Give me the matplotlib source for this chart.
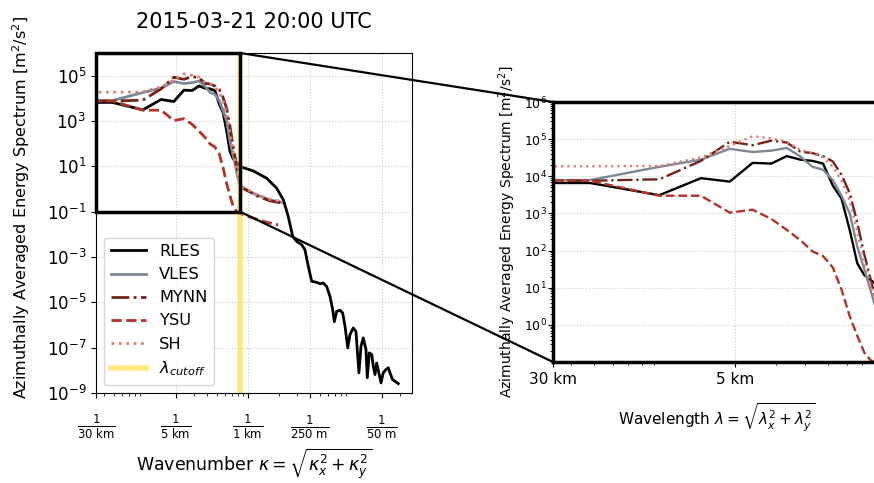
import matplotlib.pyplot as plt
from matplotlib.patches import Rectangle, ConnectionPatch

# wavenumbers [1/km]
k_grid = [0.030, 0.048, 0.095, 0.143, 0.190, 0.238, 0.286, 0.333, 0.381,
          0.429, 0.476, 0.524, 0.571, 0.619, 0.667, 0.714, 0.762, 0.810,
          0.857]
k_rles_tail = [1.12, 1.51, 1.89, 2.20, 2.45, 2.71, 2.96, 3.31, 3.56, 3.84,
               4.14, 4.63, 4.99, 5.37, 5.79, 6.24, 6.62, 6.87, 7.24, 7.80,
               8.28, 8.73, 9.27, 9.75, 10.5, 11.14, 11.91, 12.47, 13.12,
               13.93, 14.35, 15.0, 15.85, 16.41, 17.06, 17.70, 18.75, 19.5,
               20.51, 21.83, 22.96, 23.82, 25.29, 26.67, 28.71]
k_model_tail = [1.21, 1.63, 2.12]
k_ysu_tail = [1.12, 1.51, 1.96]
k_cutoff = 0.834  # 1 / (1.2 km)

# azimuthally averaged spectra [m2/s2]
rles = [6.6e3, 6.6e3, 3.1e3, 8.9e3, 7.2e3, 2.3e4, 2.2e4, 3.5e4, 2.8e4, 2.6e4,
        2.2e4, 5.6e3, 2.5e3, 355, 45, 22, 16, 12, 9.3,
        6.3, 3.0, 1.1, 0.33, 0.062, 8.1e-3, 4.9e-3, 3.5e-3, 2.1e-3, 3.9e-4,
        8.5e-5, 7.6e-5, 6.6e-5, 7.1e-5, 5.0e-5, 1.8e-5, 4.8e-6, 1.4e-6,
        4.0e-6, 4.5e-6, 3.4e-6, 8.7e-7, 9.8e-8, 3.8e-7, 7.4e-7, 5.2e-7,
        7.8e-9, 1.15e-7, 2.7e-7, 8.3e-8, 4.7e-9, 5.9e-8, 5.0e-8, 1.5e-8,
        6.5e-9, 2.1e-8, 6.5e-9, 2.8e-9, 7.8e-9, 1.1e-8, 1.3e-8, 7.8e-9,
        3.9e-9, 3.3e-9, 2.6e-9]
vles = [7.9e3, 7.9e3, 1.8e4, 2.8e4, 5.5e4, 4.5e4, 4.9e4, 5.8e4, 3.4e4, 1.8e4,
        1.5e4, 7.9e3, 3.0e3, 1.0e3, 126, 32, 7.9, 2.2, 1.1,
        0.55, 0.33, 0.26]
mynn = [7.6e3, 7.6e3, 8.3e3, 2.6e4, 8.5e4, 6.9e4, 9.1e4, 8.1e4, 4.6e4, 4.2e4,
        3.5e4, 2.5e4, 1.1e4, 3.5e3, 560, 79, 16, 3.5, 1.26,
        0.5, 0.3, 0.24]
ysu = [7.8e3, 7.6e3, 3.0e3, 3.0e3, 1.05e3, 1.26e3, 710, 360, 190, 95,
       71, 35, 8.9, 1.7, 0.5, 0.18, 0.11, 0.093, 0.079,
       0.052, 0.034, 0.026]
sh = [1.86e4, 1.86e4, 1.9e4, 3.2e4, 6.6e4, 1.2e5, 1.05e5, 8.5e4, 5.1e4, 4.2e4,
      3.2e4, 1.8e4, 7.6e3, 2.2e3, 316, 50, 11, 3.2, 1.3,
      0.58, 0.35, 0.28]

xticks_left = [1 / 30, 1 / 5, 1, 4, 20]
xticklabels_left = [r'$\frac{1}{30\ \mathrm{km}}$', r'$\frac{1}{5\ \mathrm{km}}$',
                    r'$\frac{1}{1\ \mathrm{km}}$', r'$\frac{1}{250\ \mathrm{m}}$',
                    r'$\frac{1}{50\ \mathrm{m}}$']
xticks_right = [1 / 30, 1 / 5]
xticklabels_right = ['30 km', '5 km']

styles = [
    ('RLES', rles, 'black', '-'),
    ('VLES', vles, '#7d8896', '-'),
    ('MYNN', mynn, '#72231a', '-.'),
    ('YSU', ysu, '#b1342b', '--'),
    ('SH', sh, '#e07f78', ':'),
]


def series_k(name):
    if name == 'RLES':
        return k_grid + k_rles_tail
    if name == 'YSU':
        return k_grid + k_ysu_tail
    return k_grid + k_model_tail


fig = plt.figure(figsize=(8.74, 4.83), dpi=100)
ax1 = fig.add_axes([0.1098, 0.1863, 0.3616, 0.704])
ax2 = fig.add_axes([0.6327, 0.2505, 0.3742, 0.5383])

for name, vals, color, ls in styles:
    ax1.plot(series_k(name), vals, color=color, ls=ls, lw=2, label=name)
    ax2.plot(series_k(name), vals, color=color, ls=ls, lw=1.7)
ax1.axvline(k_cutoff, color='gold', alpha=0.5, lw=4, label=r'$\lambda_{cutoff}$')

# main panel
ax1.set_xscale('log')
ax1.set_yscale('log')
ax1.set_xlim(1 / 30, 39)
ax1.set_ylim(1e-9, 1e6)
ax1.set_xticks(xticks_left)
ax1.set_xticklabels(xticklabels_left, fontsize=12)
ax1.tick_params(axis='x', which='major', pad=11)
ax1.set_yticks([1e-9, 1e-7, 1e-5, 1e-3, 1e-1, 1e1, 1e3, 1e5])
ax1.tick_params(axis='y', labelsize=12)
ax1.grid(True, which='major', ls=':', color='0.8', lw=0.8)
ax1.set_title('2015-03-21 20:00 UTC', fontsize=15, pad=18)
ax1.set_xlabel(r'Wavenumber $\kappa = \sqrt{\kappa_x^2 + \kappa_y^2}$',
               fontsize=12.5, labelpad=4)
ax1.set_ylabel(r'Azimuthally Averaged Energy Spectrum [m$^2$/s$^2$]',
               fontsize=11.5)
ax1.yaxis.set_label_coords(-0.203, 0.547)
ax1.legend(loc='lower left', fontsize=11.7, handlelength=2.2)

# zoomed panel
ax2.set_xscale('log')
ax2.set_yscale('log')
ax2.set_xlim(1 / 30, k_cutoff)
ax2.set_ylim(1e-1, 1e6)
ax2.set_xticks(xticks_right)
ax2.set_xticklabels(xticklabels_right, fontsize=11)
ax2.xaxis.set_minor_formatter(plt.NullFormatter())
ax2.set_yticks([1e0, 1e1, 1e2, 1e3, 1e4, 1e5, 1e6])
ax2.tick_params(axis='y', which='both', labelsize=9, pad=1)
ax2.grid(True, which='major', ls=':', color='0.8', lw=0.8)
for sp in ax2.spines.values():
    sp.set_linewidth(2.5)
ax2.set_xlabel(r'Wavelength $\lambda = \sqrt{\lambda_x^2 + \lambda_y^2}$',
               fontsize=11, labelpad=11)
ax2.set_ylabel(r'Azimuthally Averaged Energy Spectrum [m$^2$/s$^2$]', fontsize=10)

# zoom box and connectors
x0, x1 = ax2.get_xlim()
y0, y1 = ax2.get_ylim()
ax1.add_patch(Rectangle((x0, y0), x1 - x0, y1 - y0, fill=False,
                        edgecolor='black', lw=2.5, clip_on=False, zorder=5))
for yy in (y0, y1):
    con = ConnectionPatch(xyA=(x1, yy), coordsA=ax1.transData,
                          xyB=(x0, yy), coordsB=ax2.transData,
                          color='black', lw=1.6, zorder=10)
    fig.add_artist(con)

plt.savefig('out.png', dpi=100)
